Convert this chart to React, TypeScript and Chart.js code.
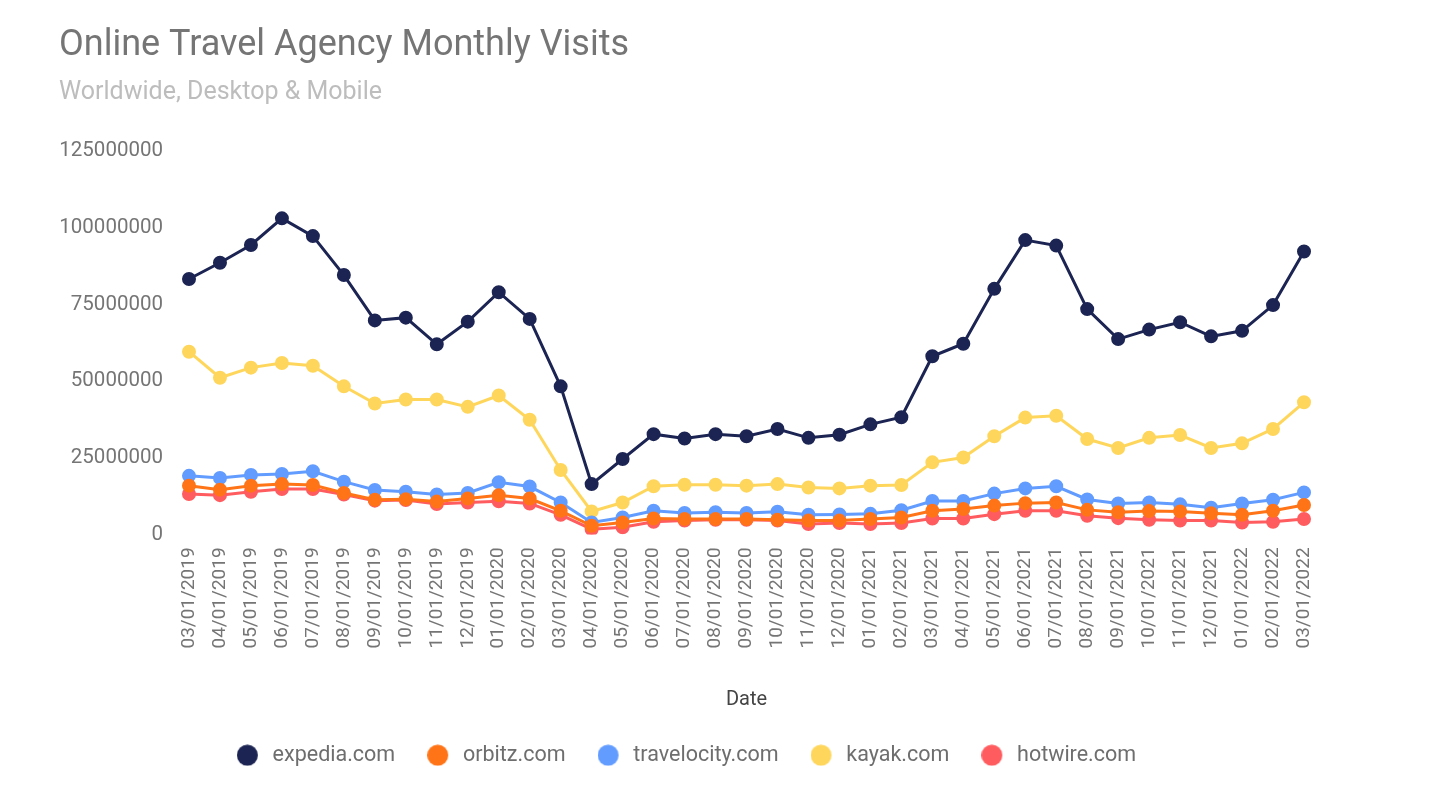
import React, { useEffect, useRef } from "react";
import { Chart, registerables } from "chart.js";

Chart.register(...registerables);

const dates = [
  "03/01/2019", "04/01/2019", "05/01/2019", "06/01/2019", "07/01/2019", "08/01/2019",
  "09/01/2019", "10/01/2019", "11/01/2019", "12/01/2019", "01/01/2020", "02/01/2020",
  "03/01/2020", "04/01/2020", "05/01/2020", "06/01/2020", "07/01/2020", "08/01/2020",
  "09/01/2020", "10/01/2020", "11/01/2020", "12/01/2020", "01/01/2021", "02/01/2021",
  "03/01/2021", "04/01/2021", "05/01/2021", "06/01/2021", "07/01/2021", "08/01/2021",
  "09/01/2021", "10/01/2021", "11/01/2021", "12/01/2021", "01/01/2022", "02/01/2022",
  "03/01/2022",
];

const expedia = [
  83300000, 88600000, 94400000, 103100000, 97300000, 84600000, 69800000, 70700000, 62000000,
  69400000, 79000000, 70300000, 48300000, 16400000, 24600000, 32700000, 31300000, 32700000,
  32000000, 34400000, 31500000, 32500000, 35900000, 38200000, 58100000, 62200000, 80100000,
  96000000, 94200000, 73500000, 63700000, 66800000, 69200000, 64600000, 66400000, 74800000,
  92300000,
];

const orbitz = [
  15900000, 14600000, 15900000, 16400000, 16100000, 13500000, 11300000, 11500000, 10700000,
  11700000, 12800000, 11700000, 7700000, 2800000, 3900000, 5200000, 5000000, 5000000,
  5000000, 4800000, 4500000, 4500000, 5000000, 5500000, 7700000, 8300000, 9400000,
  10200000, 10400000, 8000000, 7200000, 7600000, 7500000, 6900000, 6400000, 7700000,
  9600000,
];

const travelocity = [
  19100000, 18400000, 19400000, 19700000, 20600000, 17200000, 14500000, 13900000, 13000000,
  13500000, 17000000, 15600000, 10400000, 3900000, 5500000, 7700000, 7000000, 7200000,
  7000000, 7400000, 6400000, 6500000, 6700000, 7900000, 10900000, 10900000, 13300000,
  15000000, 15700000, 11400000, 10100000, 10400000, 9800000, 8700000, 10100000, 11300000,
  13700000,
];

const kayak = [
  59600000, 51100000, 54400000, 55900000, 55000000, 48300000, 42700000, 44000000, 44000000,
  41600000, 45300000, 37400000, 21000000, 7500000, 10400000, 15700000, 16200000, 16200000,
  15900000, 16400000, 15300000, 15000000, 15900000, 16100000, 23500000, 25100000, 32000000,
  38100000, 38700000, 31100000, 28200000, 31500000, 32400000, 28200000, 29700000, 34400000,
  43100000,
];

const hotwire = [
  13200000, 12800000, 13900000, 14800000, 14800000, 13000000, 11000000, 11200000, 9900000,
  10400000, 10800000, 10100000, 6400000, 1700000, 2300000, 4100000, 4500000, 4800000,
  4800000, 4500000, 3400000, 3700000, 3400000, 3700000, 5200000, 5200000, 6600000,
  7700000, 7700000, 6100000, 5300000, 4800000, 4500000, 4500000, 3900000, 4100000,
  5000000,
];

const seriesNames = ["expedia.com", "orbitz.com", "travelocity.com", "kayak.com", "hotwire.com"];
const seriesColors = ["#1b2452", "#ff7417", "#629cff", "#ffd65c", "#ff5c5f"];
const seriesValues = [expedia, orbitz, travelocity, kayak, hotwire];

const yTicks = [0, 25000000, 50000000, 75000000, 100000000, 125000000];

const FONT = "Roboto, 'Noto Sans', sans-serif";

function legendDot(color: string): HTMLCanvasElement {
  const c = document.createElement("canvas");
  c.width = 25;
  c.height = 22;
  const ctx = c.getContext("2d")!;
  ctx.fillStyle = color;
  ctx.beginPath();
  ctx.arc(10.5, 11, 10.5, 0, Math.PI * 2);
  ctx.fill();
  return c;
}

const legendShift = {
  id: "legendShift",
  afterLayout(chart: any) {
    if (chart.legend) {
      chart.legend.left += 5;
      chart.legend.right += 5;
    }
  },
};

export default function App() {
  const ref = useRef<HTMLCanvasElement | null>(null);

  useEffect(() => {
    if (!ref.current) return;
    const dots = seriesColors.map(legendDot);
    const chart = new Chart(ref.current, {
      type: "line",
      data: {
        labels: dates,
        datasets: seriesNames.map((name, i) => ({
          label: name,
          data: seriesValues[i],
          borderColor: seriesColors[i],
          backgroundColor: seriesColors[i],
          pointBackgroundColor: seriesColors[i],
          pointBorderColor: seriesColors[i],
          borderWidth: 3,
          pointRadius: 5.5,
          pointHoverRadius: 5.5,
          tension: 0,
          fill: false,
        })),
      },
      plugins: [legendShift],
      options: {
        animation: false,
        responsive: true,
        maintainAspectRatio: false,
        layout: { padding: { left: 59, right: 128, top: 24, bottom: 16 } },
        plugins: {
          title: {
            display: true,
            text: "Online Travel Agency Monthly Visits",
            align: "start",
            color: "#757575",
            font: { family: FONT, size: 36, weight: "normal" },
            padding: { top: 0, bottom: 11 },
          },
          subtitle: {
            display: true,
            text: "Worldwide, Desktop & Mobile",
            align: "start",
            color: "#bdbdbd",
            font: { family: FONT, size: 25, weight: "normal" },
            padding: { top: 0, bottom: 43 },
          },
          legend: {
            position: "bottom",
            align: "center",
            labels: {
              color: "#6e6e6e",
              font: { family: FONT, size: 21.5 },
              usePointStyle: true,
              pointStyleWidth: 25,
              boxHeight: 21.5,
              padding: 32,
              generateLabels: (ch: any) =>
                ch.data.datasets.map((ds: any, i: number) => ({
                  text: ds.label,
                  fillStyle: seriesColors[i],
                  strokeStyle: seriesColors[i],
                  lineWidth: 0,
                  pointStyle: dots[i],
                  hidden: false,
                  datasetIndex: i,
                  fontColor: "#6e6e6e",
                })),
            },
          },
          tooltip: { enabled: false },
        },
        scales: {
          x: {
            grid: { display: false, drawTicks: false },
            border: { display: false },
            ticks: {
              color: "#757575",
              font: { family: FONT, size: 19 },
              maxRotation: 90,
              minRotation: 90,
              autoSkip: false,
              padding: 13,
            },
            title: {
              display: true,
              text: "Date",
              color: "#444444",
              font: { family: FONT, size: 20 },
              padding: { top: 26, bottom: 1 },
            },
          },
          y: {
            min: 0,
            max: 125000000,
            grid: { display: false, drawTicks: false },
            border: { display: false },
            afterBuildTicks: (axis: any) => {
              axis.ticks = yTicks.map((v) => ({ value: v }));
            },
            afterFit: (axis: any) => {
              axis.width = 130;
            },
            ticks: {
              color: "#757575",
              font: { family: FONT, size: 20.5 },
              padding: 26,
              callback: (v: any) => String(v),
            },
          },
        },
      },
    } as any);
    return () => chart.destroy();
  }, []);

  return (
    <div style={{ position: "absolute", left: 0, top: 0, width: 1432, height: 792, background: "#fff" }}>
      <canvas ref={ref} />
    </div>
  );
}
